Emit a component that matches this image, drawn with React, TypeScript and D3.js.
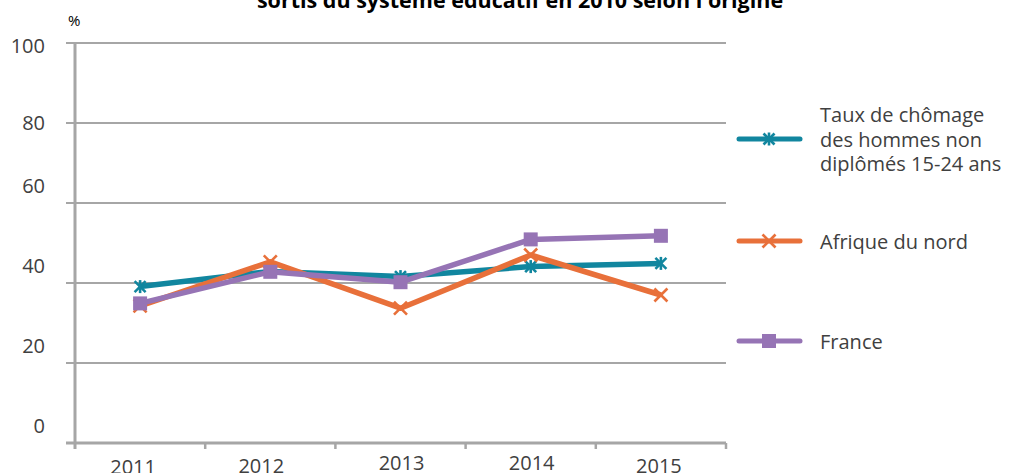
import React from "react";
import * as d3 from "d3";

const years = ["2011", "2012", "2013", "2014", "2015"];
const tauxHommes = [39.1, 42.9, 41.6, 44.1, 44.9];
const afriqueNord = [34.3, 45.3, 33.7, 47.0, 37.0];
const france = [34.9, 42.8, 40.2, 50.9, 51.8];
const yTicks = [0, 20, 40, 60, 80, 100];
const seriesNames = ["Taux de chômage|des hommes non|diplômés 15-24 ans", "Afrique du nord", "France"];
const titleText = "sortis du système éducatif en 2010 selon l'origine";

const W = 1012;
const H = 473;
const FONT = "'Open Sans', 'Liberation Sans', sans-serif";
const TEAL = "#11869F";
const ORANGE = "#E8703A";
const PURPLE = "#9674B5";
const GRID = "#A6A6A6";
const TXT = "#404040";

const x = d3.scaleBand<string>().domain(years).range([75, 726]);
const y = d3.scaleLinear().domain([0, 100]).range([443, 43]);

function labelShift(v: number) {
  if (v === 100) return 2;
  if (v === 80) return -1;
  return -18;
}

function Star({ cx, cy, s, color }: { cx: number; cy: number; s: number; color: string }) {
  const h = s / 2;
  return (
    <g stroke={color} strokeWidth={2.6} strokeLinecap="butt">
      <line x1={cx - h} y1={cy - h} x2={cx + h} y2={cy + h} />
      <line x1={cx - h} y1={cy + h} x2={cx + h} y2={cy - h} />
      <line x1={cx} y1={cy - h - 1} x2={cx} y2={cy + h + 1} />
    </g>
  );
}

function Cross({ cx, cy, s, color }: { cx: number; cy: number; s: number; color: string }) {
  const h = s / 2;
  return (
    <g stroke={color} strokeWidth={2.6}>
      <line x1={cx - h} y1={cy - h} x2={cx + h} y2={cy + h} />
      <line x1={cx - h} y1={cy + h} x2={cx + h} y2={cy - h} />
    </g>
  );
}

function Square({ cx, cy, s, color }: { cx: number; cy: number; s: number; color: string }) {
  return <rect x={cx - s / 2} y={cy - s / 2} width={s} height={s} fill={color} />;
}

export default function App() {
  const cxOf = (yr: string) => (x(yr) as number) + x.bandwidth() / 2;
  const line = d3
    .line<number>()
    .x((_, i) => cxOf(years[i]))
    .y((d) => y(d));

  const series = [
    { data: tauxHommes, color: TEAL, marker: "star" },
    { data: afriqueNord, color: ORANGE, marker: "cross" },
    { data: france, color: PURPLE, marker: "square" },
  ];

  const marker = (kind: string, cx: number, cy: number, color: string, key: string | number) => {
    if (kind === "star") return <Star key={key} cx={cx} cy={cy} s={11} color={color} />;
    if (kind === "cross") return <Cross key={key} cx={cx} cy={cy} s={13} color={color} />;
    return <Square key={key} cx={cx} cy={cy} s={14} color={color} />;
  };

  const legendY = [139, 241, 341];

  return (
    <svg
      width={W}
      height={H}
      style={{ position: "absolute", left: 0, top: 0, background: "#fff" }}
      fontFamily={FONT}
    >
      <rect width={W} height={H} fill="#fff" />
      <text x={520} y={8} textAnchor="middle" fontSize={21.5} fontWeight="bold" fill="#000">
        {titleText}
      </text>
      <text x={68} y={26} fontSize={15} fill="#000">
        %
      </text>

      {yTicks.map((v) => (
        <g key={v}>
          <line x1={66} x2={726} y1={y(v)} y2={y(v)} stroke={GRID} strokeWidth={v === 0 ? 3 : 2.2} />
          <text
            x={45}
            y={y(v) + labelShift(v)}
            textAnchor="end"
            dominantBaseline="central"
            fontSize={20}
            fill={TXT}
          >
            {v}
          </text>
        </g>
      ))}
      <line x1={75} x2={75} y1={42} y2={449} stroke={GRID} strokeWidth={3} />
      {[...years.map((yr) => x(yr) as number), 726].map((tx, i) =>
        i === 0 ? null : <line key={i} x1={tx} x2={tx} y1={443} y2={449} stroke={GRID} strokeWidth={2.5} />
      )}
      {years.map((yr, i) => (
        <text
          key={yr}
          x={cxOf(yr) + [-7, -9, 1, 1, -2][i]}
          y={[474, 473, 470, 470, 473][i]}
          textAnchor="middle"
          fontSize={20}
          fill={TXT}
        >
          {yr}
        </text>
      ))}

      {series.map((s, si) => (
        <g key={si}>
          <path d={line(s.data) || ""} fill="none" stroke={s.color} strokeWidth={5.5} strokeLinejoin="round" />
          {s.data.map((v, i) => marker(s.marker, cxOf(years[i]), y(v), s.color, i))}
        </g>
      ))}

      {series.map((s, si) => (
        <g key={"lg" + si}>
          <line
            x1={739}
            x2={800}
            y1={legendY[si]}
            y2={legendY[si]}
            stroke={s.color}
            strokeWidth={5}
            strokeLinecap="round"
          />
          {marker(s.marker, 769, legendY[si], s.color, "m")}
          {seriesNames[si].split("|").map((t, li, arr) => (
            <text
              key={li}
              x={820}
              y={legendY[si] + (li - (arr.length - 1) / 2) * 24.5}
              dominantBaseline="central"
              fontSize={20}
              fill={TXT}
            >
              {t}
            </text>
          ))}
        </g>
      ))}
    </svg>
  );
}
